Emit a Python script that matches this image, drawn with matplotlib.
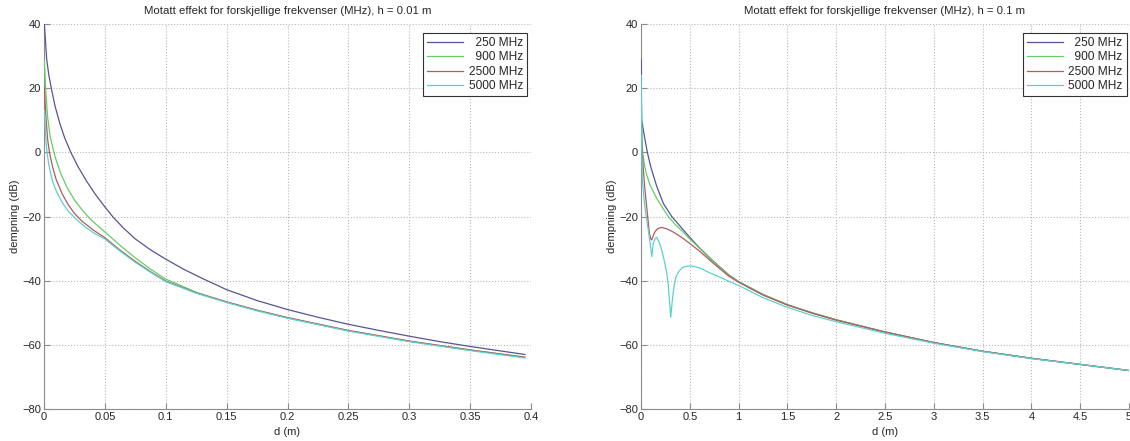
import matplotlib
matplotlib.use("Agg")
import matplotlib.pyplot as plt
from matplotlib.ticker import FormatStrFormatter, MultipleLocator

plt.rcParams["font.family"] = ["Liberation Sans", "DejaVu Sans"]
plt.rcParams["font.size"] = 8

labels = ["  250 MHz", "  900 MHz", "2500 MHz", "5000 MHz"]
colors = ["#555596", "#66cc66", "#b45a5a", "#5cd0d0"]

# h = 0.01 m
left_d_250 = [0.0003, 0.0022, 0.004, 0.006, 0.009, 0.013, 0.017, 0.022, 0.028, 0.035,
              0.042, 0.05, 0.057, 0.065, 0.075, 0.0875, 0.1, 0.115, 0.13, 0.15,
              0.175, 0.2, 0.225, 0.25, 0.275, 0.3, 0.325, 0.35, 0.375, 0.395]
left_db_250 = [40, 29, 24, 20, 14.5, 9, 4.5, 0, -4.5, -9,
               -13, -17, -20.3, -23.5, -27, -30.4, -33.3, -36.5, -39.3, -42.8,
               -46.2, -49.0, -51.4, -53.6, -55.5, -57.3, -59.0, -60.5, -61.9, -63.0]

left_d_900 = [0.0003, 0.0015, 0.003, 0.005, 0.0075, 0.01, 0.014, 0.019, 0.025, 0.031,
              0.038, 0.045, 0.05, 0.0625, 0.075, 0.0875, 0.1, 0.125, 0.15, 0.175,
              0.2, 0.25, 0.3, 0.35, 0.395]
left_db_900 = [28.5, 19, 11, 5, 1, -2.5, -6.8, -11, -14.8, -17.8,
               -20.8, -23.2, -24.8, -29.0, -32.9, -36.4, -39.5, -43.6, -46.7, -49.3,
               -51.6, -55.6, -58.9, -61.6, -63.8]

left_d_2500 = [0.0003, 0.0015, 0.003, 0.0045, 0.007, 0.01, 0.015, 0.02, 0.025, 0.031,
               0.04, 0.05, 0.0625, 0.075, 0.0875, 0.1, 0.125, 0.15, 0.175, 0.2,
               0.25, 0.3, 0.35, 0.395]
left_db_2500 = [20, 11.5, 4, 0, -4.5, -8.5, -13, -16.4, -19, -21.4,
                -24.1, -26.6, -30.5, -34.0, -37.2, -40.1, -43.8, -46.6, -49.2, -51.5,
                -55.5, -58.8, -61.6, -63.9]

left_d_5000 = [0.0003, 0.0015, 0.0025, 0.004, 0.007, 0.01, 0.015, 0.02, 0.028, 0.035,
               0.042, 0.05, 0.0625, 0.075, 0.0875, 0.1, 0.125, 0.15, 0.175, 0.2,
               0.25, 0.3, 0.35, 0.395]
left_db_5000 = [13, 4.5, 0, -4, -9, -12, -15.7, -18.4, -21.4, -23.6,
                -25.4, -27.0, -30.8, -34.3, -37.4, -40.3, -43.9, -46.8, -49.4, -51.7,
                -55.7, -59.0, -61.8, -64.1]

# h = 0.1 m
right_d_250 = [0.002, 0.004, 0.007, 0.035, 0.065, 0.1, 0.16, 0.23, 0.315, 0.4,
               0.5, 0.6, 0.75, 0.9, 1.0, 1.25, 1.5, 1.75, 2.0, 2.5,
               3.0, 3.5, 4.0, 4.5, 5.0]
right_db_250 = [29, 18, 10, 5, 0, -4.5, -10.5, -16, -20, -23,
                -26.5, -29.8, -34.2, -38.2, -40.3, -44.3, -47.5, -50, -52.2, -56,
                -59.3, -62, -64.2, -66.1, -68]

right_d_900 = [0.002, 0.006, 0.017, 0.035, 0.058, 0.09, 0.127, 0.16, 0.195, 0.24,
               0.28, 0.35, 0.42, 0.5, 0.6, 0.75, 0.9, 1.0, 1.25, 1.5,
               1.75, 2.0, 2.5, 3.0, 3.5, 4.0, 4.5, 5.0]
right_db_900 = [21, 8, 0, -4, -7, -10, -12.3, -14.3, -16, -18.2,
                -20, -22.5, -24.5, -27, -29.9, -34.3, -38.3, -40.3, -44.3, -47.5,
                -50, -52.2, -56, -59.3, -62, -64.2, -66.1, -68]

right_d_2500 = [0.002, 0.008, 0.024, 0.04, 0.058, 0.075, 0.086, 0.1, 0.11, 0.125,
                0.144, 0.17, 0.212, 0.26, 0.31, 0.366, 0.43, 0.5, 0.6, 0.75,
                0.9, 1.0, 1.25, 1.5, 1.75, 2.0, 2.5, 3.0, 3.5, 4.0,
                4.5, 5.0]
right_db_2500 = [15, 3, -5.5, -11.5, -16.9, -22, -25.2, -27, -27.3, -26,
                 -24.7, -23.8, -23.4, -23.8, -24.5, -25.5, -26.8, -28.4, -30.8, -34.8,
                 -38.6, -40.5, -44.5, -47.6, -50.1, -52.3, -56, -59.3, -62, -64.2,
                 -66.1, -68]

right_d_5000 = [0.002, 0.006, 0.014, 0.041, 0.075, 0.1, 0.11, 0.127, 0.145, 0.161,
                0.185, 0.212, 0.24, 0.264, 0.28, 0.291, 0.305, 0.315, 0.325, 0.34,
                0.36, 0.39, 0.418, 0.45, 0.497, 0.55, 0.606, 0.7, 0.8, 0.9,
                1.0, 1.25, 1.5, 1.75, 2.0, 2.5, 3.0, 3.5, 4.0, 4.5,
                5.0]
right_db_5000 = [24, 5, -8.6, -17.5, -24.2, -29.9, -32.5, -28.3, -26.8, -26.5,
                 -28, -30.4, -34, -37.7, -41.5, -46, -51.4, -48, -45, -41.5,
                 -38.7, -37, -36.1, -35.6, -35.4, -35.6, -36.1, -37.5, -38.8, -40.2,
                 -41.5, -45.3, -48.3, -50.8, -52.8, -56.4, -59.5, -62.1, -64.3, -66.1,
                 -68]

panels = [
    {
        "title": "Motatt effekt for forskjellige frekvenser (MHz), h = 0.01 m",
        "series": [(left_d_250, left_db_250), (left_d_900, left_db_900),
                   (left_d_2500, left_db_2500), (left_d_5000, left_db_5000)],
        "xlim": (0, 0.4), "xstep": 0.05, "rect": [44 / 1130, 32 / 441, 487 / 1130, 385 / 441],
        "anchor": (0.992, 0.977),
    },
    {
        "title": "Motatt effekt for forskjellige frekvenser (MHz), h = 0.1 m",
        "series": [(right_d_250, right_db_250), (right_d_900, right_db_900),
                   (right_d_2500, right_db_2500), (right_d_5000, right_db_5000)],
        "xlim": (0, 5), "xstep": 0.5, "rect": [641 / 1130, 32 / 441, 488 / 1130, 385 / 441],
        "anchor": (0.996, 0.977),
    },
]


def main():
    fig = plt.figure(figsize=(11.3, 4.41), dpi=100)

    for p in panels:
        ax = fig.add_axes(p["rect"])
        for (d, db), lab, col in zip(p["series"], labels, colors):
            ax.plot(d, db, color=col, linewidth=0.9, label=lab, zorder=3)

        ax.set_xlim(*p["xlim"])
        ax.set_ylim(-80, 40)
        ax.xaxis.set_major_locator(MultipleLocator(p["xstep"]))
        ax.yaxis.set_major_locator(MultipleLocator(20))
        ax.xaxis.set_major_formatter(FormatStrFormatter("%g"))
        ax.grid(True, linestyle=":", color="#b8b8b8", linewidth=0.8)

        for side in ("top", "right"):
            ax.spines[side].set_visible(False)
        for side in ("left", "bottom"):
            ax.spines[side].set_color("#8c8c8c")
        ax.tick_params(direction="in", length=4, width=0.8, color="#8c8c8c",
                       labelcolor="#262626", labelsize=8, pad=2)

        ax.set_title(p["title"], fontsize=8.2, color="#262626", pad=7)
        ax.set_xlabel("d (m)", fontsize=8, color="#262626", labelpad=4)
        ax.set_ylabel("dempning (dB)", fontsize=8, color="#262626", labelpad=2)

        leg = ax.legend(loc="upper right", bbox_to_anchor=p["anchor"], borderaxespad=0,
                        fancybox=False, framealpha=1, edgecolor="#333333",
                        fontsize=8.6, handlelength=3.0, handletextpad=0.45,
                        labelspacing=0.2, borderpad=0.35)
        leg.get_frame().set_linewidth(0.8)
        leg.set_zorder(5)
        for t in leg.get_texts():
            t.set_color("#262626")

    fig.savefig("out.png", dpi=100)
    plt.close(fig)


if __name__ == "__main__":
    main()
